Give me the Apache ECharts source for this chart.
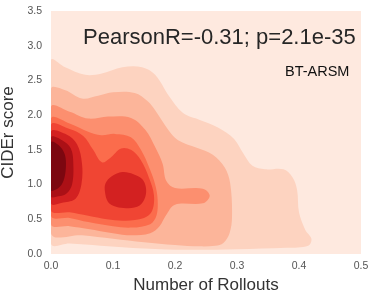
<!DOCTYPE html>
<html><head><meta charset="utf-8">
<script src="https://cdn.jsdelivr.net/npm/echarts@6/dist/echarts.min.js"></script>
<style>html,body{margin:0;padding:0;background:#fff}#c{width:376px;height:298px}</style>
</head><body><div id="c"></div>
<script>
// Axis ticks
const xTicks = [0.0, 0.1, 0.2, 0.3, 0.4, 0.5];
const yTicks = [0.0, 0.5, 1.0, 1.5, 2.0, 2.5, 3.0, 3.5];

// Filled KDE contour levels (outermost first), each a list of polygons [x, y]
const level1 = [[[0,0.15],[0,2.79],[0.023,2.69],[0.055,2.58],[0.082,2.6],[0.115,2.69],[0.147,2.69],[0.168,2.58],[0.19,2.28],[0.213,2.03],[0.24,1.93],[0.27,1.82],[0.295,1.66],[0.31,1.45],[0.325,1.27],[0.345,1.22],[0.375,1.22],[0.39,1.1],[0.397,0.92],[0.4,0.6],[0.41,0.35],[0.42,0.22],[0.415,0.12],[0.38,0.09],[0.3,0.07],[0.22,0.06],[0.15,0.08],[0.08,0.12],[0.03,0.15]]];
const level2 = [[[0,0.3],[0,2.38],[0.023,2.36],[0.05,2.24],[0.076,2.28],[0.1,2.33],[0.135,2.32],[0.156,2.2],[0.168,2.07],[0.189,1.79],[0.205,1.64],[0.235,1.53],[0.261,1.43],[0.28,1.25],[0.289,1.02],[0.292,0.54],[0.288,0.3],[0.278,0.16],[0.265,0.12],[0.24,0.11],[0.2,0.13],[0.15,0.17],[0.1,0.22],[0.05,0.27]]];
const level3 = [[[0,0.43],[0,2.12],[0.03,2.05],[0.06,1.95],[0.092,1.98],[0.129,1.96],[0.152,1.79],[0.168,1.54],[0.18,1.3],[0.186,1.05],[0.2,0.95],[0.245,0.94],[0.256,0.84],[0.245,0.73],[0.2,0.71],[0.185,0.55],[0.175,0.4],[0.16,0.3],[0.13,0.27],[0.1,0.3],[0.06,0.36],[0.03,0.4]]];
const level4 = [[[0,0.55],[0,1.95],[0.03,1.88],[0.06,1.76],[0.081,1.71],[0.103,1.73],[0.129,1.68],[0.145,1.5],[0.16,1.21],[0.168,1.0],[0.172,0.78],[0.17,0.55],[0.16,0.43],[0.13,0.38],[0.1,0.4],[0.06,0.46],[0.03,0.52]]];
const level5 = [[[0,0.63],[0,1.86],[0.03,1.8],[0.052,1.7],[0.068,1.5],[0.082,1.32],[0.095,1.38],[0.113,1.52],[0.129,1.5],[0.145,1.35],[0.158,1.1],[0.166,0.85],[0.163,0.62],[0.15,0.52],[0.12,0.48],[0.09,0.5],[0.06,0.55],[0.03,0.6]]];
const level6 = [
  [[0,0.73],[0,1.76],[0.025,1.72],[0.042,1.58],[0.05,1.3],[0.049,1.0],[0.04,0.8],[0.02,0.74]],
  [[0.087,0.9],[0.092,0.75],[0.105,0.68],[0.125,0.66],[0.143,0.7],[0.152,0.82],[0.153,0.96],[0.147,1.08],[0.133,1.15],[0.115,1.18],[0.098,1.12],[0.088,1.02]]
];
const level7 = [[[0,0.83],[0,1.68],[0.018,1.64],[0.032,1.52],[0.036,1.3],[0.034,1.0],[0.025,0.87],[0.012,0.83]]];
const level8 = [[[0,0.92],[0,1.61],[0.012,1.57],[0.022,1.44],[0.024,1.25],[0.02,1.05],[0.012,0.95]]];

const levels = [level1, level2, level3, level4, level5, level6, level7, level8];
const levelColors = ['#fdd3c0', '#fcb59a', '#fc8f6f', '#fb6c4c', '#f04533', '#d32121', '#ab1016', '#7c0710'];
const bgColor = '#fee9df';

const items = [];
levels.forEach((lv, li) => lv.forEach((poly, pi) => items.push([li, pi])));

const chart = echarts.init(document.getElementById('c'), null, {renderer: 'canvas'});
chart.setOption({
  animation: false,
  grid: {left: 51, right: 15, top: 11, bottom: 44, show: true, backgroundColor: bgColor, borderWidth: 0,
    containLabel: false, outerBoundsMode: 'none'},
  xAxis: {
    type: 'value', min: 0, max: 0.5, interval: 0.1,
    name: 'Number of Rollouts', nameLocation: 'middle', nameGap: 23,
    nameTextStyle: {fontFamily: 'Liberation Sans', fontSize: 17, color: '#333'},
    axisLine: {show: false}, axisTick: {show: false}, splitLine: {show: false},
    axisLabel: {fontFamily: 'Liberation Sans', fontSize: 10.5, color: '#555', margin: 7,
      formatter: v => v.toFixed(1)}
  },
  yAxis: {
    type: 'value', min: 0, max: 3.5, interval: 0.5,
    name: 'CIDEr score', nameLocation: 'middle', nameGap: 30, nameRotate: 90,
    nameTextStyle: {fontFamily: 'Liberation Sans', fontSize: 17, color: '#333'},
    axisLine: {show: false}, axisTick: {show: false}, splitLine: {show: false},
    axisLabel: {fontFamily: 'Liberation Sans', fontSize: 10.5, color: '#555', margin: 9,
      formatter: v => v.toFixed(1)}
  },
  graphic: [
    {type: 'text', left: 83, top: 27, style: {text: 'PearsonR=-0.31; p=2.1e-35', fontFamily: 'Liberation Sans', fontSize: 22, fill: '#262626'}, z: 100},
    {type: 'text', left: 285, top: 64, style: {text: 'BT-ARSM', fontFamily: 'Liberation Sans', fontSize: 14.5, fill: '#111'}, z: 100}
  ],
  series: [{
    type: 'custom',
    clip: true,
    data: items,
    renderItem: function (params, api) {
      const li = api.value(0), pi = api.value(1);
      const pts = levels[li][pi].map(p => api.coord(p));
      return {type: 'polygon', shape: {points: pts, smooth: 0.35}, style: {fill: levelColors[li]}};
    }
  }]
});
</script></body></html>
